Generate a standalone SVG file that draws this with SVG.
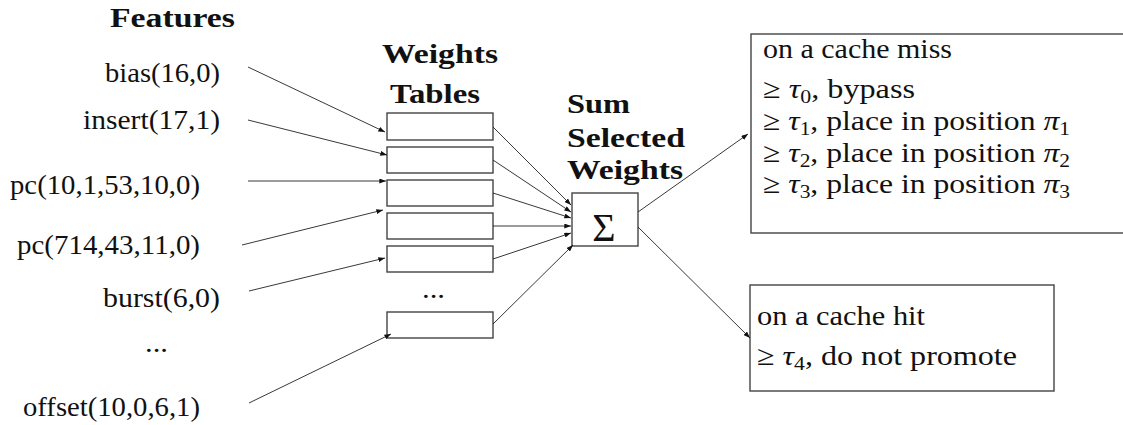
<svg xmlns="http://www.w3.org/2000/svg" width="1123" height="425" viewBox="0 0 1123 425">
  <style>
    text { fill: #111; font-family: 'Liberation Serif', serif; }
    .hd { font-weight: bold; font-size: 27px; }
    .lb { font-size: 28px; }
    .feat { font-size: 28px; text-anchor: end; }
    .box { fill: #fff; stroke: #444; stroke-width: 1.4; }
    .wire { fill: none; stroke: #222; stroke-width: 0.9; marker-end: url(#tip); }
    .m { font-style: italic; }
    .sub { font-size: 19px; }
  </style>
  <defs>
    <marker id="tip" viewBox="0 0 8 6" refX="8" refY="3" markerWidth="7" markerHeight="5" markerUnits="userSpaceOnUse" orient="auto">
      <path d="M0,0 L8,3 L0,6 z" fill="#111"/>
    </marker>
  </defs>
  <rect width="1123" height="425" fill="#fff"/>

  <!-- feature inputs -->
  <g id="features">
    <text class="hd" x="110" y="27" textLength="125" lengthAdjust="spacingAndGlyphs">Features</text>
    <text class="feat" x="220" y="82" textLength="115" lengthAdjust="spacingAndGlyphs">bias(16,0)</text>
    <text class="feat" x="220" y="129" textLength="137" lengthAdjust="spacingAndGlyphs">insert(17,1)</text>
    <text class="feat" x="200" y="194" textLength="190" lengthAdjust="spacingAndGlyphs">pc(10,1,53,10,0)</text>
    <text class="feat" x="200" y="254" textLength="183" lengthAdjust="spacingAndGlyphs">pc(714,43,11,0)</text>
    <text class="feat" x="220" y="307" textLength="117" lengthAdjust="spacingAndGlyphs">burst(6,0)</text>
    <text class="lb" x="145" y="352" textLength="23" lengthAdjust="spacingAndGlyphs">...</text>
    <text class="feat" x="200" y="416" textLength="177" lengthAdjust="spacingAndGlyphs">offset(10,0,6,1)</text>
  </g>

  <!-- weight tables -->
  <g id="tables">
    <text class="hd" x="382" y="63" textLength="116" lengthAdjust="spacingAndGlyphs">Weights</text>
    <text class="hd" x="390" y="103" textLength="90" lengthAdjust="spacingAndGlyphs">Tables</text>
    <rect class="box" x="387" y="113" width="106" height="27"/>
    <rect class="box" x="387" y="147" width="106" height="26"/>
    <rect class="box" x="387" y="180" width="106" height="26"/>
    <rect class="box" x="387" y="213" width="106" height="26"/>
    <rect class="box" x="387" y="246" width="106" height="26"/>
    <text class="lb" x="422" y="298" textLength="23" lengthAdjust="spacingAndGlyphs">...</text>
    <rect class="box" x="387" y="312" width="106" height="26"/>
  </g>

  <!-- summation -->
  <g id="sum">
    <text class="hd" x="567" y="113" textLength="63" lengthAdjust="spacingAndGlyphs">Sum</text>
    <text class="hd" x="567" y="147" textLength="118" lengthAdjust="spacingAndGlyphs">Selected</text>
    <text class="hd" x="567" y="179" textLength="116" lengthAdjust="spacingAndGlyphs">Weights</text>
    <rect class="box" x="572" y="193" width="66" height="53"/>
    <text x="604" y="241" font-size="40" text-anchor="middle">Σ</text>
  </g>

  <!-- decision on a miss -->
  <g id="miss">
    <rect class="box" x="751" y="34" width="380" height="199"/>
    <text class="lb" x="763" y="58" textLength="189" lengthAdjust="spacingAndGlyphs">on a cache miss</text>
    <text class="lb" x="763" y="98" textLength="152" lengthAdjust="spacingAndGlyphs">≥ <tspan class="m">τ</tspan><tspan class="sub" dy="5">0</tspan><tspan dy="-5">, bypass</tspan></text>
    <text class="lb" x="763" y="130" textLength="307" lengthAdjust="spacingAndGlyphs">≥ <tspan class="m">τ</tspan><tspan class="sub" dy="5">1</tspan><tspan dy="-5">, place in position </tspan><tspan class="m">π</tspan><tspan class="sub" dy="5">1</tspan></text>
    <text class="lb" x="763" y="162" textLength="307" lengthAdjust="spacingAndGlyphs">≥ <tspan class="m">τ</tspan><tspan class="sub" dy="5">2</tspan><tspan dy="-5">, place in position </tspan><tspan class="m">π</tspan><tspan class="sub" dy="5">2</tspan></text>
    <text class="lb" x="763" y="193" textLength="307" lengthAdjust="spacingAndGlyphs">≥ <tspan class="m">τ</tspan><tspan class="sub" dy="5">3</tspan><tspan dy="-5">, place in position </tspan><tspan class="m">π</tspan><tspan class="sub" dy="5">3</tspan></text>
  </g>

  <!-- decision on a hit -->
  <g id="hit">
    <rect class="box" x="750" y="285" width="304" height="106"/>
    <text class="lb" x="757" y="325" textLength="168" lengthAdjust="spacingAndGlyphs">on a cache hit</text>
    <text class="lb" x="757" y="365" textLength="260" lengthAdjust="spacingAndGlyphs">≥ <tspan class="m">τ</tspan><tspan class="sub" dy="5">4</tspan><tspan dy="-5">, do not promote</tspan></text>
  </g>

  <!-- connectors -->
  <g id="connectors">
    <line class="wire" x1="248" y1="67" x2="385" y2="132"/>
    <line class="wire" x1="248" y1="120" x2="387" y2="155"/>
    <line class="wire" x1="248" y1="181" x2="386" y2="181"/>
    <line class="wire" x1="242" y1="245" x2="383" y2="210"/>
    <line class="wire" x1="249" y1="291" x2="385" y2="258"/>
    <line class="wire" x1="249" y1="403" x2="391" y2="334"/>

    <line class="wire" x1="493" y1="127" x2="571" y2="205"/>
    <line class="wire" x1="493" y1="160" x2="571" y2="212"/>
    <line class="wire" x1="493" y1="193" x2="571" y2="218"/>
    <line class="wire" x1="493" y1="226" x2="571" y2="226"/>
    <line class="wire" x1="493" y1="259" x2="571" y2="233"/>
    <line class="wire" x1="493" y1="324" x2="573" y2="245"/>

    <line class="wire" x1="638" y1="212" x2="748" y2="134"/>
    <line class="wire" x1="638" y1="227" x2="750" y2="338"/>
  </g>
</svg>
